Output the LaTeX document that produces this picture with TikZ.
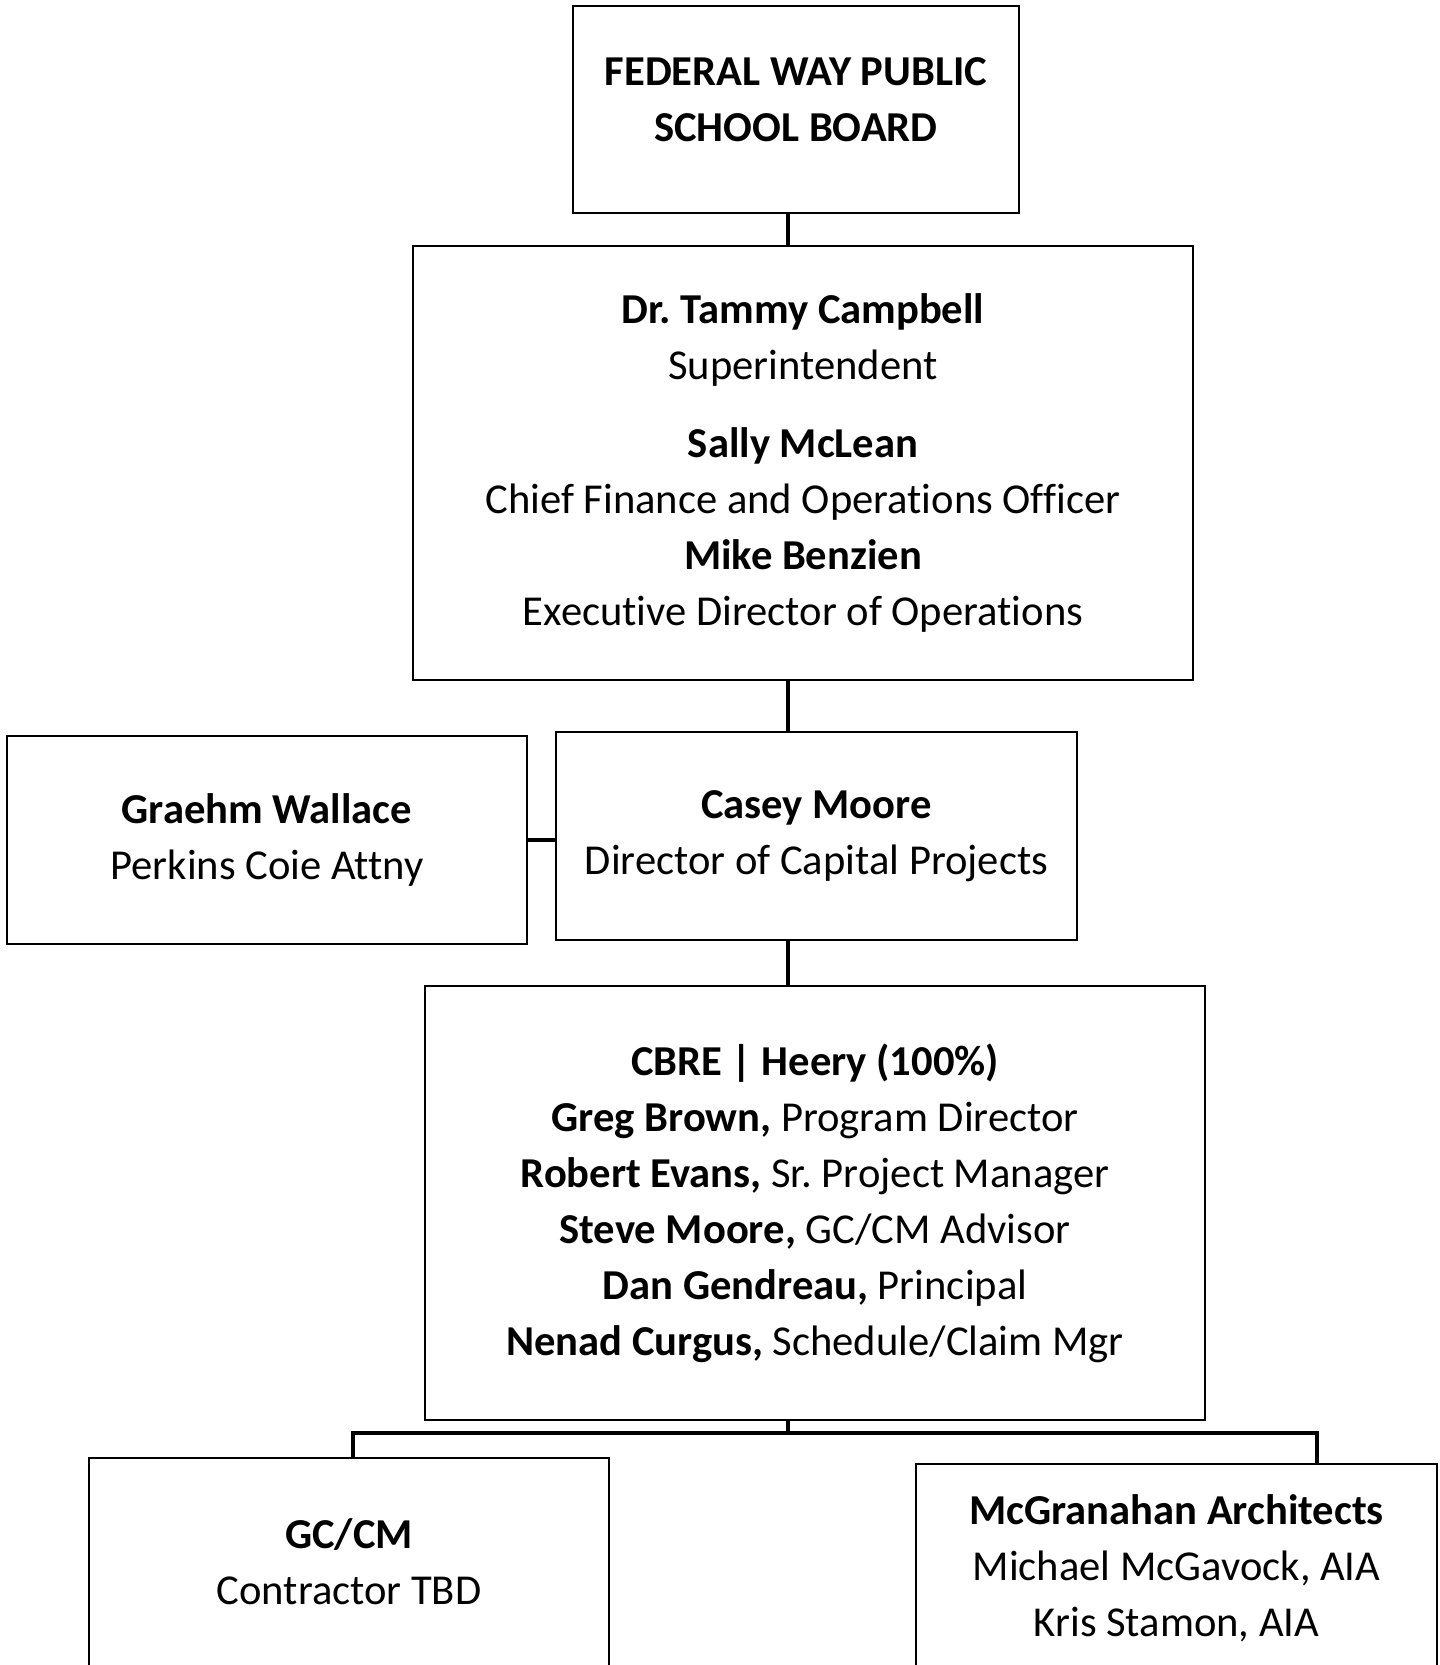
\documentclass[tikz,border=0pt]{standalone}
\usepackage{fontspec}
\setmainfont{Carlito}[Ligatures=NoCommon]
\usetikzlibrary{positioning}

\begin{document}
\frenchspacing
\begin{tikzpicture}[x=0.5pt,y=-0.5pt,
  box/.style={draw,line width=1pt,align=center,inner sep=0pt,
    font=\fontsize{21.3}{28}\selectfont},
  link/.style={line width=1.6pt}]
  \useasboundingbox (0,0) rectangle (1440,1665);
  \clip (0,0) rectangle (1440,1665);
  \node[box,minimum width=223pt,minimum height=103.5pt,text depth=10pt] (board) at (796,109.5)
    {\textbf{FEDERAL WAY PUBLIC}\\\textbf{SCHOOL BOARD}};
  \node[box,minimum width=390pt,minimum height=217pt] (super) at (803,463)
    {\textbf{Dr. Tammy Campbell}\\Superintendent\\[11pt]
     \textbf{Sally McLean}\\Chief Finance and Operations Officer\\
     \textbf{Mike Benzien}\\Executive Director of Operations};
  \node[box,minimum width=260pt,minimum height=104pt] (graehm) at (267,840)
    {\textbf{Graehm Wallace}\\Perkins Coie Attny};
  \node[box,minimum width=260.5pt,minimum height=104pt] (casey) at (816.5,836)
    {\textbf{Casey Moore}\\Director of Capital Projects};
  \node[box,minimum width=390pt,minimum height=217pt] (cbre) at (815,1203)
    {\textbf{CBRE | Heery (100\%)}\\
     \textbf{Greg Brown,} Program Director\\
     \textbf{Robert Evans,} Sr. Project Manager\\
     \textbf{Steve Moore,} GC/CM Advisor\\
     \textbf{Dan Gendreau,} Principal\\
     \textbf{Nenad Curgus,} Schedule/Claim Mgr};
  \node[box,minimum width=260pt,minimum height=104pt] (gccm) at (349,1562)
    {\textbf{GC/CM}\\Contractor TBD};
  \node[box,minimum width=260.5pt,minimum height=104pt] (mcg) at (1176.5,1568)
    {\textbf{McGranahan Architects}\\Michael McGavock, AIA\\Kris Stamon, AIA};
  % connectors
  \coordinate (trunk) at (788,0);
  \coordinate (ldrop) at (353,1433);
  \coordinate (rdrop) at (1317,1433);
  \draw[link] (board.south -| trunk) -- (super.north -| trunk);
  \draw[link] (super.south -| trunk) -- (casey.north -| trunk);
  \draw[link] (graehm.east) -- (casey.west |- graehm.east);
  \draw[link] (casey.south -| trunk) -- (cbre.north -| trunk);
  \draw[link] (cbre.south -| trunk) -- (ldrop -| trunk);
  \draw[link] (ldrop |- gccm.north) -- (ldrop) -- (rdrop) -- (rdrop |- mcg.north);
\end{tikzpicture}
\end{document}
